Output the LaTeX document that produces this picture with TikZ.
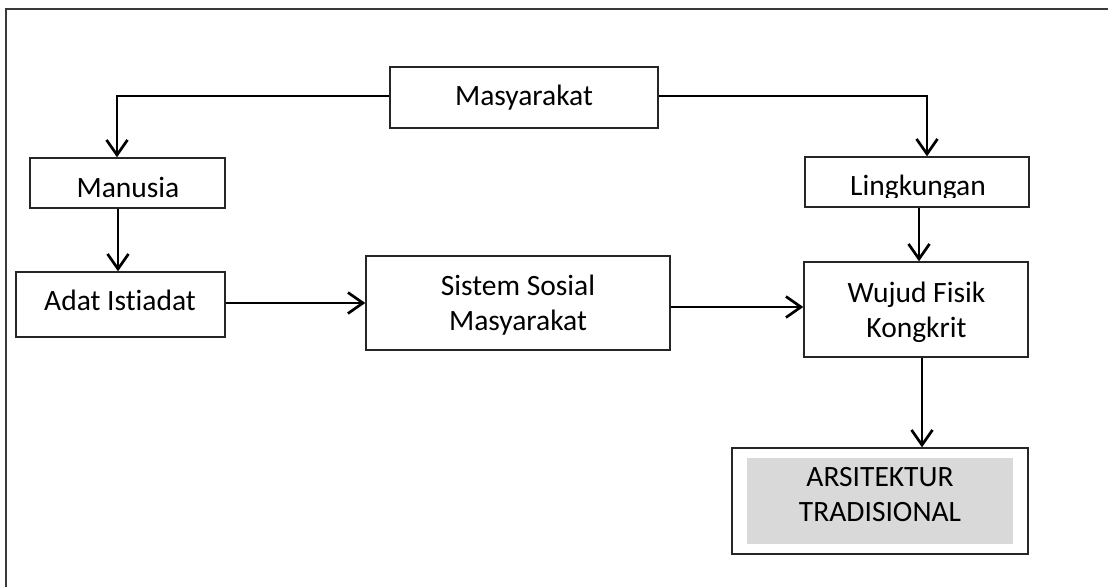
\documentclass[tikz,border=0pt]{standalone}
\usepackage{fontspec}
\setmainfont{Carlito}[Ligatures={NoCommon}]
\usetikzlibrary{arrows.meta}
\definecolor{boxline}{HTML}{262626}
\definecolor{grayfill}{HTML}{D9D9D9}
\definecolor{framecol}{HTML}{3A3A3A}
\begin{document}
\begin{tikzpicture}[x=1pt,y=-1pt,
  box/.style={draw=boxline,line width=1.4pt,fill=white,inner sep=0pt,rectangle},
  lbl/.style={anchor=base,inner sep=0pt,font=\fontsize{29.5}{35}\selectfont,text=black},
  arr/.style={line width=2.7pt,-{Straight Barb[length=15pt,width=21pt,line width=2.7pt]}}]
\useasboundingbox (0,0) rectangle (1108,587);
% frame (only top and left edges visible)
\coordinate (fa) at (1108,9);
\coordinate (fb) at (5.5,9);
\coordinate (fc) at (5.5,587);
\draw[framecol,line width=2pt] (fa) -- (fb) -- (fc);
% boxes
\node[box,minimum width=268pt,minimum height=61pt] (mas) at (524,97.5) {};
\node[box,minimum width=195pt,minimum height=50pt] (man) at (127.5,183) {};
\node[box,minimum width=209pt,minimum height=65pt] (adat) at (120.5,304.5) {};
\node[box,minimum width=304pt,minimum height=94pt] (sis) at (518,303) {};
\node[box,minimum width=224pt,minimum height=50pt] (ling) at (917,182) {};
\node[box,minimum width=224pt,minimum height=95pt] (wuj) at (916,309.5) {};
\node[box,minimum width=296pt,minimum height=106pt] (ars) at (880,501) {};
\node[fill=grayfill,inner sep=0pt,minimum width=266pt,minimum height=86pt] (arsin) at (880,501) {};
% texts
\node[lbl] (t-mas) at (524,105) {Masyarakat};
\node[lbl] (t-man) at (128,197) {Manusia};
\node[lbl] (t-adat) at (120,310) {Adat Istiadat};
\node[lbl] (t-sis1) at (518,295) {Sistem Sosial};
\node[lbl] (t-sis2) at (518,330) {Masyarakat};
\begin{scope}
\clip (805,150) rectangle (1029,197);
\node[lbl] (t-ling) at (918,195) {Lingkungan};
\end{scope}
\node[lbl] (t-wuj1) at (916.5,302) {Wujud Fisik};
\node[lbl] (t-wuj2) at (916.5,337) {Kongkrit};
\node[lbl] (t-ars1) at (880,486) {ARSITEKTUR};
\node[lbl] (t-ars2) at (880,521) {TRADISIONAL};
% connectors
\draw[arr] ([yshift=1.5pt]mas.west) -| ([xshift=-10.5pt]man.north);
\draw[arr] ([yshift=1.5pt]mas.east) -| ([xshift=10pt]ling.north);
\draw[arr] ([xshift=-9.5pt]man.south) -- ([xshift=-9.5pt]man.south |- adat.north);
\draw[arr] ([yshift=1.5pt]adat.east) -- ([yshift=1.5pt]adat.east -| sis.west);
\draw[arr] ([yshift=-4pt]sis.east) -- ([yshift=-4pt]sis.east -| wuj.west);
\draw[arr] ([xshift=2pt]ling.south) -- ([xshift=2pt]ling.south |- wuj.north);
\draw[arr] ([xshift=6pt]wuj.south) -- ([xshift=6pt]wuj.south |- ars.north);
\end{tikzpicture}
\end{document}
